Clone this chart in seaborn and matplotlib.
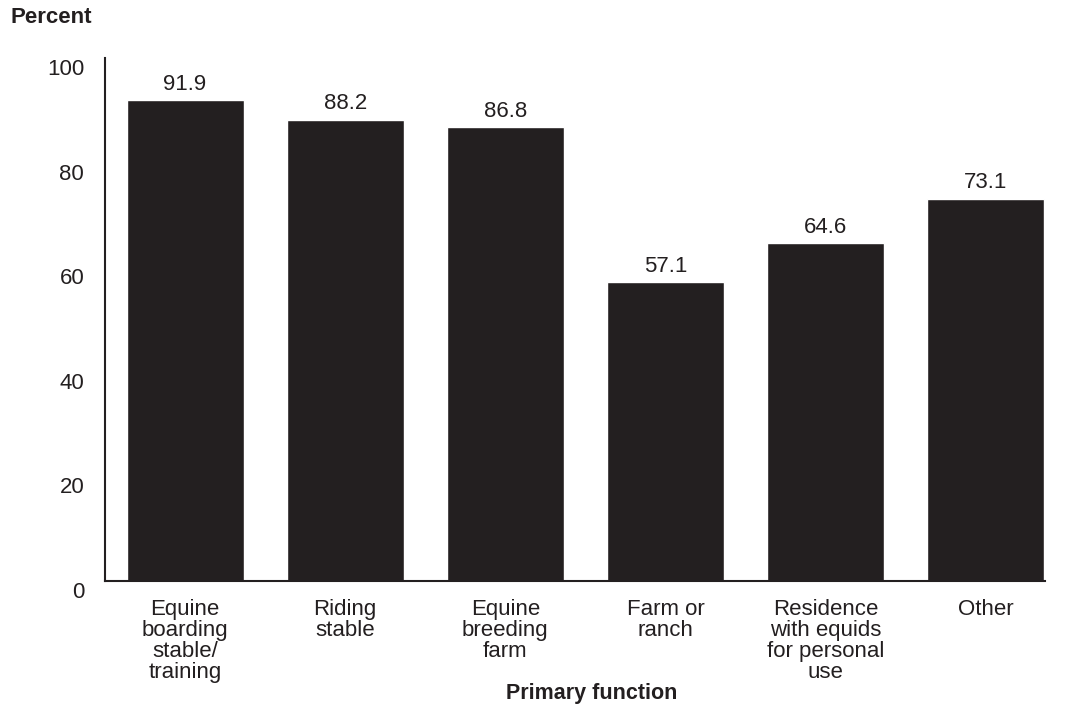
import matplotlib
matplotlib.use("Agg")
import matplotlib.pyplot as plt
import matplotlib.transforms as mtransforms
import seaborn as sns
import pandas as pd

categories = [
    "Equine\nboarding\nstable/\ntraining",
    "Riding\nstable",
    "Equine\nbreeding\nfarm",
    "Farm or\nranch",
    "Residence\nwith equids\nfor personal\nuse",
    "Other",
]
percents = [91.9, 88.2, 86.8, 57.1, 64.6, 73.1]
y_ticks = [0, 20, 40, 60, 80, 100]

sns.set_theme(style="white")
plt.rcParams['font.family'] = ['Liberation Sans', 'DejaVu Sans']

df = pd.DataFrame({"category": categories, "percent": percents})

fig = plt.figure(figsize=(10.69, 7.15), dpi=100)
ax = fig.add_axes([0.0982, 0.1874, 0.8794, 0.7315])

sns.barplot(data=df, x="category", y="percent", color="#231f20",
            saturation=1, width=0.73, ax=ax)

for i, v in enumerate(percents):
    ax.text(i, v + 1.0, f"{v:.1f}", ha="center", va="bottom",
            fontsize=16, color="#231f20")

ax.set_xlim(-0.5, 5.37)
ax.set_ylim(0, 100)
ax.set_yticks(y_ticks)
ax.tick_params(axis="both", length=0, labelsize=16, colors="#231f20")
ax.tick_params(axis="y", pad=15)
ax.tick_params(axis="x", pad=13)

# tick numbers in the reference sit a little below their gridline positions
shift = mtransforms.ScaledTranslation(0, -9 / 100, fig.dpi_scale_trans)
for lab in ax.get_yticklabels():
    lab.set_transform(lab.get_transform() + shift)

for lab in ax.get_xticklabels():
    lab.set_linespacing(0.99)

ax.set_xlabel("Primary function", fontsize=15.5, fontweight="bold",
              color="#231f20", labelpad=0)
ax.xaxis.label.set_x(0.518)
ax.set_ylabel("")

for side in ["top", "right"]:
    ax.spines[side].set_visible(False)
for side in ["left", "bottom"]:
    ax.spines[side].set_color("#231f20")
    ax.spines[side].set_linewidth(1.5)

fig.text(0.010, 0.976, "Percent", fontsize=16, fontweight="bold",
         color="#231f20", ha="left", va="center")

fig.savefig("out.png", dpi=100)
